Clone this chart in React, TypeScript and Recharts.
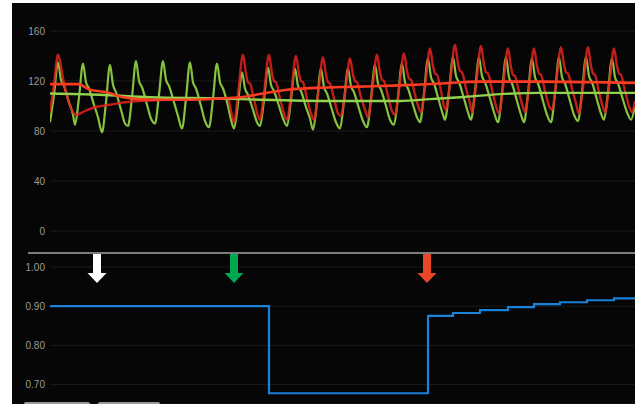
import { LineChart, Line, XAxis, YAxis, CartesianGrid, ReferenceDot } from 'recharts'

// time axis in samples (0..585), pressure in mmHg
const timeDomain: [number, number] = [0, 585]
const pressureTicks = [0, 40, 80, 120, 160]
const ratioTicks = [0.7, 0.8, 0.9, 1.0]

const greenPulse: [number, number][] = [
  [0, 87], [4, 109], [8, 135], [11, 121], [14, 116], [19, 103], [23, 93],
  [25, 85], [29, 107], [33, 134], [36, 119], [39, 114], [44, 101], [48, 91],
  [52, 79], [56, 103], [60, 133], [63, 117], [66, 111], [71, 97], [75, 86],
  [78, 84], [82, 107], [86, 136], [89, 120], [92, 115], [97, 101], [101, 90],
  [105, 86], [109, 109], [113, 136], [116, 121], [119, 116], [124, 103], [128, 92],
  [132, 82], [136, 106], [140, 135], [143, 119], [146, 114], [151, 100], [155, 88],
  [159, 83], [163, 106], [167, 134], [170, 119], [173, 114], [178, 100], [181, 89],
  [184, 82], [188, 102], [192, 127], [195, 114], [198, 109], [203, 97], [207, 87],
  [210, 84], [214, 105], [218, 131], [221, 117], [224, 112], [229, 100], [233, 90],
  [237, 84], [241, 105], [245, 130], [248, 116], [251, 112], [256, 99], [260, 90],
  [263, 81], [267, 103], [271, 130], [274, 115], [277, 110], [282, 97], [286, 87],
  [290, 82], [294, 104], [298, 130], [301, 116], [304, 111], [309, 98], [313, 88],
  [317, 83], [321, 106], [325, 133], [328, 118], [331, 113], [336, 100], [340, 89],
  [344, 85], [348, 107], [352, 134], [355, 119], [358, 114], [363, 101], [367, 91],
  [370, 87], [374, 110], [378, 138], [381, 123], [384, 118], [389, 104], [393, 93],
  [395, 89], [399, 112], [403, 139], [406, 124], [409, 119], [414, 106], [418, 95],
  [421, 89], [425, 112], [429, 139], [432, 124], [435, 119], [440, 106], [444, 95],
  [448, 87], [452, 110], [456, 139], [459, 123], [462, 118], [467, 104], [471, 93],
  [474, 87], [478, 110], [482, 138], [485, 123], [488, 118], [493, 104], [497, 93],
  [501, 87], [505, 110], [509, 139], [512, 123], [515, 118], [520, 104], [524, 93],
  [528, 88], [532, 111], [536, 139], [539, 124], [542, 119], [547, 105], [551, 94],
  [554, 89], [558, 111], [562, 138], [565, 123], [568, 118], [573, 105], [577, 95],
  [581, 89], [585, 100],
]

const redPulse: [number, number][] = [
  [0, 95], [4, 117], [8, 141], [10, 136], [13, 122], [17, 108], [21, 98], [26, 93],
  [35, 96], [45, 99], [60, 101], [75, 103], [90, 104], [105, 104.5], [120, 105],
  [140, 105.5], [160, 106], [178, 106], [181, 96],
  [184, 87], [188, 109], [193, 141], [196, 126], [198, 119], [200, 118], [204, 105], [208, 92],
  [210, 89], [214, 110], [219, 141], [222, 126], [224, 120], [226, 119], [230, 106], [234, 94],
  [237, 89], [241, 109], [246, 140], [249, 126], [251, 120], [253, 119], [257, 106], [261, 94],
  [264, 89], [268, 109], [273, 139], [276, 125], [278, 119], [280, 118], [284, 106], [288, 94],
  [291, 92], [295, 110], [300, 138], [303, 125], [305, 120], [307, 119], [311, 107], [315, 97],
  [318, 91], [322, 111], [327, 141], [330, 127], [332, 121], [334, 120], [338, 108], [342, 96],
  [345, 93], [349, 113], [354, 142], [357, 128], [359, 122], [361, 121], [365, 109], [369, 98],
  [371, 95], [375, 115], [380, 146], [383, 132], [385, 126], [387, 125], [391, 112], [394, 100],
  [396, 97], [400, 118], [405, 149], [408, 134], [410, 128], [412, 127], [416, 114], [420, 102],
  [422, 95], [426, 116], [431, 148], [434, 133], [436, 127], [438, 126], [442, 113], [446, 100],
  [449, 94], [453, 115], [458, 146], [461, 131], [463, 125], [465, 124], [469, 111], [473, 99],
  [475, 95], [479, 115], [484, 146], [487, 132], [489, 126], [491, 125], [495, 112], [499, 100],
  [502, 97], [506, 117], [511, 147], [514, 133], [516, 127], [518, 126], [522, 114], [526, 102],
  [529, 94], [533, 115], [538, 147], [541, 132], [543, 126], [545, 125], [549, 111], [553, 99],
  [555, 95], [559, 115], [564, 146], [567, 132], [569, 126], [571, 125], [575, 112], [579, 100],
  [582, 95], [585, 104],
]

const redMean: [number, number][] = [
  [0, 117.5], [28, 117.5], [40, 113], [57, 111], [73, 107], [100, 105], [140, 105],
  [170, 106], [190, 107], [213, 110], [237, 113], [265, 114.5], [310, 115.5],
  [350, 116.5], [390, 118], [430, 119.5], [490, 119.5], [550, 119], [585, 118.5],
]

const greenMean: [number, number][] = [
  [0, 110], [50, 109], [100, 107], [170, 106], [210, 105], [280, 104], [350, 104],
  [380, 105.5], [410, 107], [450, 109.5], [490, 110.5], [585, 110.5],
]

// step values of the lower trace
const stepTimes = [0, 219, 378, 403, 430, 458, 484, 510, 537, 564, 585]
const stepValues = [0.9, 0.6775, 0.875, 0.8825, 0.89, 0.8975, 0.905, 0.91, 0.915, 0.92, 0.92]

const eventTimes = [47, 184, 377]
const eventColors = ['#ffffff', '#00a651', '#ec4628']

const toRows = (pts: [number, number][]) => pts.map(([t, v]) => ({ t, v }))
const stepRows = stepTimes.map((t, i) => ({ t, v: stepValues[i] }))

const tickStyle = { fill: '#9a9a9a', fontSize: 10, fontFamily: 'Liberation Sans, Arial, sans-serif' }

function Arrow(props: { cx?: number; cy?: number; color: string }) {
  const { cx = 0, cy = 0, color } = props
  const pts = [
    [cx - 4, cy - 13],
    [cx + 4, cy - 13],
    [cx + 4, cy + 6],
    [cx + 9.5, cy + 6],
    [cx, cy + 16],
    [cx - 9.5, cy + 6],
    [cx - 4, cy + 6],
  ]
  return <polygon points={pts.map((p) => p.join(',')).join(' ')} fill={color} />
}

export default function App() {
  return (
    <div style={{ position: 'absolute', left: 0, top: 0, width: 635, height: 404, background: '#fff', overflow: 'hidden' }}>
      <div style={{ position: 'absolute', left: 12, top: 3, width: 623, height: 401, background: '#060607' }} />

      <div style={{ position: 'absolute', left: 0, top: 0 }}>
        <LineChart width={635} height={252} margin={{ top: 31, right: 0, bottom: 21, left: 0 }}>
          <CartesianGrid stroke="#1b1b1d" vertical={false} />
          <XAxis type="number" dataKey="t" domain={timeDomain} hide allowDataOverflow />
          <YAxis
            domain={[0, 160]}
            ticks={pressureTicks}
            width={50}
            axisLine={false}
            tickLine={false}
            tickSize={3}
            tickMargin={2}
            tick={tickStyle}
          />
          <Line data={toRows(greenPulse)} dataKey="v" type="monotone" stroke="#86c23e" strokeWidth={2.2} dot={false} isAnimationActive={false} />
          <Line data={toRows(redPulse)} dataKey="v" type="monotone" stroke="#e3221d" strokeWidth={2.4} strokeOpacity={0.85} dot={false} isAnimationActive={false} />
          <Line data={toRows(greenMean)} dataKey="v" type="monotone" stroke="#92d24e" strokeWidth={2.4} dot={false} isAnimationActive={false} />
          <Line data={toRows(redMean)} dataKey="v" type="monotone" stroke="#ff3b22" strokeWidth={2.6} dot={false} isAnimationActive={false} />
        </LineChart>
      </div>

      <div style={{ position: 'absolute', left: 28, top: 252, width: 607, height: 2, background: '#7c7c7c' }} />

      <div style={{ position: 'absolute', left: 0, top: 0 }}>
        <LineChart width={635} height={404} data={stepRows} margin={{ top: 267, right: 0, bottom: 0, left: 0 }}>
          <CartesianGrid stroke="#1b1b1d" vertical={false} />
          <XAxis type="number" dataKey="t" domain={timeDomain} hide />
          <YAxis
            domain={[0.65, 1.0]}
            ticks={ratioTicks}
            width={50}
            axisLine={false}
            tickLine={false}
            tickSize={3}
            tickMargin={2}
            tick={tickStyle}
            tickFormatter={(v: number) => v.toFixed(2)}
            allowDataOverflow
          />
          <Line dataKey="v" type="stepAfter" stroke="#1a80d8" strokeWidth={2.2} dot={false} isAnimationActive={false} />
          {eventTimes.map((t, i) => (
            <ReferenceDot
              key={t}
              x={t}
              y={1.0}
              ifOverflow="visible"
              shape={(p: { cx?: number; cy?: number }) => <Arrow cx={p.cx} cy={p.cy} color={eventColors[i]} />}
            />
          ))}
        </LineChart>
      </div>

      <div style={{ position: 'absolute', left: 24, top: 402, width: 66, height: 4, background: '#9a9a9a', borderRadius: 2 }} />
      <div style={{ position: 'absolute', left: 98, top: 402, width: 62, height: 4, background: '#9a9a9a', borderRadius: 2 }} />
    </div>
  )
}
